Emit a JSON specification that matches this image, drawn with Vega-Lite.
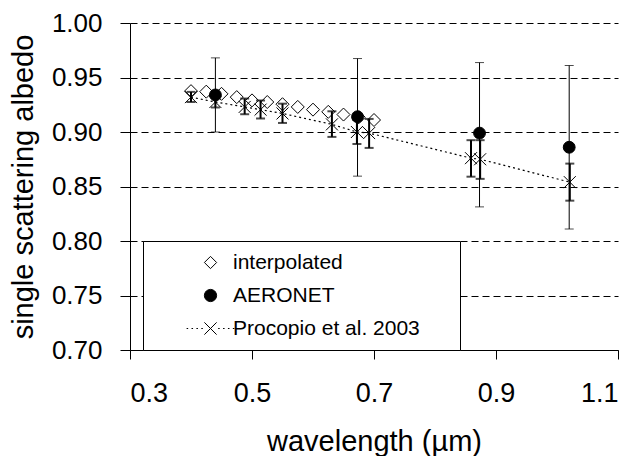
{
  "$schema": "https://vega.github.io/schema/vega-lite/v6.json",
  "width": 488,
  "height": 327,
  "autosize": {"type": "none"},
  "padding": {"left": 130, "top": 23, "right": 20, "bottom": 106},
  "background": "white",
  "config": {
    "view": {"stroke": null},
    "font": "Liberation Sans",
    "axis": {
      "domainColor": "black",
      "tickColor": "black",
      "labelColor": "black",
      "titleColor": "black",
      "labelFont": "Liberation Sans",
      "titleFont": "Liberation Sans",
      "titleFontWeight": "normal"
    },
    "legend": {
      "orient": "none",
      "legendX": 13,
      "legendY": 218,
      "fillColor": "white",
      "strokeColor": "black",
      "padding": 11,
      "rowPadding": 11,
      "symbolSize": 150,
      "symbolStrokeWidth": 1,
      "symbolOpacity": 1,
      "symbolOffset": 46,
      "labelOffset": 12,
      "labelFont": "Liberation Sans",
      "labelFontSize": 21,
      "labelColor": "black",
      "labelLimit": 500
    }
  },
  "datasets": {
    "interp": [
      {"series": "interpolated", "wl": 0.400, "ssa": 0.9375},
      {"series": "interpolated", "wl": 0.425, "ssa": 0.937},
      {"series": "interpolated", "wl": 0.450, "ssa": 0.935},
      {"series": "interpolated", "wl": 0.475, "ssa": 0.932},
      {"series": "interpolated", "wl": 0.500, "ssa": 0.929},
      {"series": "interpolated", "wl": 0.525, "ssa": 0.9275},
      {"series": "interpolated", "wl": 0.550, "ssa": 0.9255},
      {"series": "interpolated", "wl": 0.575, "ssa": 0.923},
      {"series": "interpolated", "wl": 0.600, "ssa": 0.9205},
      {"series": "interpolated", "wl": 0.625, "ssa": 0.9185},
      {"series": "interpolated", "wl": 0.650, "ssa": 0.916},
      {"series": "interpolated", "wl": 0.675, "ssa": 0.9135},
      {"series": "interpolated", "wl": 0.700, "ssa": 0.911}
    ],
    "aeronet": [
      {"series": "AERONET", "wl": 0.44, "ssa": 0.934, "lo": 0.900, "hi": 0.968},
      {"series": "AERONET", "wl": 0.673, "ssa": 0.914, "lo": 0.8595, "hi": 0.9674},
      {"series": "AERONET", "wl": 0.873, "ssa": 0.899, "lo": 0.8313, "hi": 0.9637},
      {"series": "AERONET", "wl": 1.02, "ssa": 0.886, "lo": 0.811, "hi": 0.961}
    ],
    "procopio": [
      {"series": "Procopio et al. 2003", "wl": 0.40, "ssa": 0.932, "lo": 0.9275, "hi": 0.9368},
      {"series": "Procopio et al. 2003", "wl": 0.44, "ssa": 0.9275, "lo": 0.9225, "hi": 0.9325},
      {"series": "Procopio et al. 2003", "wl": 0.488, "ssa": 0.923, "lo": 0.9163, "hi": 0.9307},
      {"series": "Procopio et al. 2003", "wl": 0.514, "ssa": 0.9205, "lo": 0.9124, "hi": 0.929},
      {"series": "Procopio et al. 2003", "wl": 0.55, "ssa": 0.917, "lo": 0.9083, "hi": 0.926},
      {"series": "Procopio et al. 2003", "wl": 0.631, "ssa": 0.907, "lo": 0.8955, "hi": 0.919},
      {"series": "Procopio et al. 2003", "wl": 0.672, "ssa": 0.900, "lo": 0.889, "hi": 0.911},
      {"series": "Procopio et al. 2003", "wl": 0.692, "ssa": 0.899, "lo": 0.8854, "hi": 0.912},
      {"series": "Procopio et al. 2003", "wl": 0.859, "ssa": 0.876, "lo": 0.859, "hi": 0.8925},
      {"series": "Procopio et al. 2003", "wl": 0.874, "ssa": 0.875, "lo": 0.857, "hi": 0.8925},
      {"series": "Procopio et al. 2003", "wl": 1.021, "ssa": 0.854, "lo": 0.837, "hi": 0.871}
    ]
  },
  "layer": [
    {
      "data": {"name": "interp"},
      "mark": {"type": "point", "filled": true, "strokeWidth": 1, "size": 169, "opacity": 1},
      "encoding": {
        "x": {
          "field": "wl", "type": "quantitative",
          "scale": {"domain": [0.3, 1.1], "nice": false, "zero": false},
          "axis": {
            "values": [0.3, 0.5, 0.7, 0.9, 1.1],
            "format": ".1f",
            "grid": false,
            "tickSize": 9,
            "labelFontSize": 27,
            "labelPadding": 21,
            "title": "wavelength (µm)",
            "titleFontSize": 29,
            "titleBaseline": "alphabetic",
            "titleY": 100
          }
        },
        "y": {
          "field": "ssa", "type": "quantitative",
          "scale": {"domain": [0.7, 1.0], "nice": false, "zero": false},
          "axis": {
            "values": [0.7, 0.75, 0.8, 0.85, 0.9, 0.95, 1.0],
            "format": ".2f",
            "grid": true,
            "gridColor": "black",
            "gridDash": [7, 4],
            "gridWidth": 1,
            "tickSize": 10,
            "labelFontSize": 26,
            "labelPadding": 18,
            "title": "single scattering albedo",
            "titleFontSize": 29,
            "titleAngle": -90,
            "titleBaseline": "alphabetic",
            "titleAlign": "center",
            "titleX": -98,
            "titleY": 163.5
          }
        },
        "shape": {
          "field": "series", "type": "nominal",
          "scale": {
            "domain": ["interpolated", "AERONET", "Procopio et al. 2003"],
            "range": ["diamond", "circle", "M-3.9,0L-3.65,0M-3.1,0L-2.85,0M-2.3,0L-2.05,0M-1.5,0L-1.25,0M1.25,0L1.5,0M2.05,0L2.3,0M2.85,0L3.1,0M3.65,0L3.9,0M-1,-1L1,1M-1,1L1,-1"]
          },
          "legend": {
            "title": null,
            "labelExpr": "datum.label + '\u00a0\u00a0\u00a0\u00a0\u00a0\u200b'"
          }
        },
        "fill": {
          "field": "series", "type": "nominal",
          "scale": {
            "domain": ["interpolated", "AERONET", "Procopio et al. 2003"],
            "range": ["white", "black", "transparent"]
          },
          "legend": {
            "title": null,
            "labelExpr": "datum.label + '\u00a0\u00a0\u00a0\u00a0\u00a0\u200b'"
          }
        },
        "stroke": {
          "field": "series", "type": "nominal",
          "scale": {
            "domain": ["interpolated", "AERONET", "Procopio et al. 2003"],
            "range": ["black", "black", "black"]
          },
          "legend": {
            "title": null,
            "labelExpr": "datum.label + '\u00a0\u00a0\u00a0\u00a0\u00a0\u200b'"
          }
        }
      }
    },
    {
      "data": {"name": "procopio"},
      "mark": {"type": "line", "color": "black", "strokeWidth": 1.2, "strokeDash": [2, 3]},
      "encoding": {
        "x": {"field": "wl", "type": "quantitative"},
        "y": {"field": "ssa", "type": "quantitative"}
      }
    },
    {
      "data": {"name": "procopio"},
      "mark": {"type": "rule", "color": "black", "strokeWidth": 2},
      "encoding": {
        "x": {"field": "wl", "type": "quantitative"},
        "y": {"field": "lo", "type": "quantitative"},
        "y2": {"field": "hi"}
      }
    },
    {
      "data": {"name": "procopio"},
      "mark": {"type": "tick", "orient": "horizontal", "color": "black", "size": 9, "thickness": 2},
      "encoding": {
        "x": {"field": "wl", "type": "quantitative"},
        "y": {"field": "lo", "type": "quantitative"}
      }
    },
    {
      "data": {"name": "procopio"},
      "mark": {"type": "tick", "orient": "horizontal", "color": "black", "size": 9, "thickness": 2},
      "encoding": {
        "x": {"field": "wl", "type": "quantitative"},
        "y": {"field": "hi", "type": "quantitative"}
      }
    },
    {
      "data": {"name": "procopio"},
      "mark": {"type": "point", "shape": "M-1,-1L1,1M-1,1L1,-1", "filled": false, "color": "black", "strokeWidth": 1, "size": 144, "opacity": 1},
      "encoding": {
        "x": {"field": "wl", "type": "quantitative"},
        "y": {"field": "ssa", "type": "quantitative"}
      }
    },
    {
      "data": {"name": "aeronet"},
      "mark": {"type": "rule", "color": "black", "strokeWidth": 1},
      "encoding": {
        "x": {"field": "wl", "type": "quantitative"},
        "y": {"field": "lo", "type": "quantitative"},
        "y2": {"field": "hi"}
      }
    },
    {
      "data": {"name": "aeronet"},
      "mark": {"type": "tick", "orient": "horizontal", "color": "black", "size": 9, "thickness": 1},
      "encoding": {
        "x": {"field": "wl", "type": "quantitative"},
        "y": {"field": "lo", "type": "quantitative"}
      }
    },
    {
      "data": {"name": "aeronet"},
      "mark": {"type": "tick", "orient": "horizontal", "color": "black", "size": 9, "thickness": 1},
      "encoding": {
        "x": {"field": "wl", "type": "quantitative"},
        "y": {"field": "hi", "type": "quantitative"}
      }
    },
    {
      "data": {"name": "aeronet"},
      "mark": {"type": "point", "filled": true, "strokeWidth": 1, "size": 140, "opacity": 1},
      "encoding": {
        "x": {"field": "wl", "type": "quantitative"},
        "y": {"field": "ssa", "type": "quantitative"},
        "shape": {"field": "series", "type": "nominal"},
        "fill": {"field": "series", "type": "nominal"},
        "stroke": {"field": "series", "type": "nominal"}
      }
    },
    {
      "mark": {"type": "rule", "color": "black", "strokeWidth": 1},
      "encoding": {
        "x": {"datum": 1.1, "type": "quantitative"}
      }
    }
  ]
}
